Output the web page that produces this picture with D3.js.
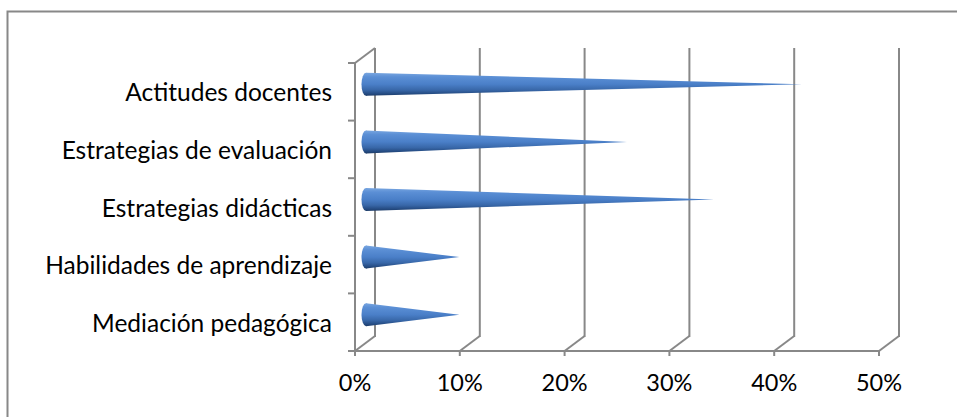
<!DOCTYPE html>
<html>
<head>
<meta charset="utf-8">
<script src="https://cdn.jsdelivr.net/npm/d3@7"></script>
<style>
  html, body { margin: 0; padding: 0; background: #fff; }
  svg { display: block; }
  text { font-family: Lato, "Open Sans", sans-serif; fill: #000; }
</style>
</head>
<body>
<svg id="chart" width="957" height="417"></svg>
<script>
// Categories, top to bottom
const categories = [
  "Actitudes docentes",
  "Estrategias de evaluación",
  "Estrategias didácticas",
  "Habilidades de aprendizaje",
  "Mediación pedagógica"
];
// Share of responses per category
const values = [0.417, 0.25, 0.333, 0.09, 0.09];
// Value axis ticks
const tickValues = [0, 0.1, 0.2, 0.3, 0.4, 0.5];
const tickLabels = ["0%", "10%", "20%", "30%", "40%", "50%"];

const svg = d3.select("#chart");
const grey = "#888888";

// outer chart frame
svg.append("rect")
  .attr("x", 7.5).attr("y", 11.5)
  .attr("width", 1000).attr("height", 500)
  .attr("fill", "none").attr("stroke", grey).attr("stroke-width", 2);

// front plane scales and depth offset of the 3D box
const x = d3.scaleLinear().domain([0, 0.5]).range([355, 879]);
const y = d3.scaleBand().domain(categories).range([63, 351]).paddingInner(0).paddingOuter(0);
const dx = 20, dy = -15;
const yTop = 63, yBot = 351;

const grid = svg.append("g").attr("stroke", grey).attr("stroke-width", 2).attr("fill", "none");

// back wall gridlines
grid.selectAll(".back").data(tickValues).join("line")
  .attr("x1", d => x(d) + dx).attr("x2", d => x(d) + dx)
  .attr("y1", yTop + dy).attr("y2", yBot + dy + 1);

// floor: depth lines from each tick to the back wall
grid.selectAll(".floor").data(tickValues).join("line")
  .attr("x1", d => x(d)).attr("y1", yBot)
  .attr("x2", d => x(d) + dx).attr("y2", yBot + dy);

// front value axis with ticks
grid.append("line").attr("x1", x(0)).attr("x2", x(0.5)).attr("y1", yBot).attr("y2", yBot);
grid.selectAll(".xt").data(tickValues).join("line")
  .attr("x1", d => x(d)).attr("x2", d => x(d))
  .attr("y1", yBot).attr("y2", yBot + 5);

// left wall: category axis, top depth edge, ticks at band edges
grid.append("line").attr("x1", x(0)).attr("x2", x(0)).attr("y1", yTop).attr("y2", yBot);
grid.append("line").attr("x1", x(0)).attr("y1", yTop).attr("x2", x(0) + dx).attr("y2", yTop + dy);
const bandEdges = categories.map(c => y(c)).concat([yBot]);
grid.selectAll(".yt").data(bandEdges).join("line")
  .attr("x1", x(0) - 7).attr("x2", x(0))
  .attr("y1", d => d).attr("y2", d => d);

// cone shading
const defs = svg.append("defs");
const grad = defs.append("linearGradient").attr("id", "coneGrad")
  .attr("x1", 0).attr("y1", 0).attr("x2", 0).attr("y2", 1);
[[0, "#79a6e0"], [0.18, "#5b8fd5"], [0.5, "#4a7fc8"], [0.75, "#3867a8"], [0.92, "#244a80"], [1, "#1d3b66"]]
  .forEach(([o, c]) => grad.append("stop").attr("offset", o).attr("stop-color", c));

const r = 11.5;
const cones = svg.append("g").selectAll("g").data(categories.map((c, i) => ({ c, v: values[i] }))).join("g");
const cy = d => y(d.c) + y.bandwidth() / 2 + dy / 2;
const bx = x(0) + dx / 2 + 1;

cones.append("ellipse")
  .attr("cx", bx).attr("cy", cy).attr("rx", 4.5).attr("ry", r)
  .attr("fill", "url(#coneGrad)");
cones.append("path")
  .attr("d", d => `M${bx},${cy(d) - r}L${x(d.v) + dx / 2},${cy(d)}L${bx},${cy(d) + r}Z`)
  .attr("fill", "url(#coneGrad)");

// category labels
svg.append("g").selectAll("text").data(categories).join("text")
  .attr("x", 332).attr("y", d => y(d) + y.bandwidth() / 2 + 1)
  .attr("dy", "0.35em").attr("text-anchor", "end")
  .attr("font-size", 24.5).text(d => d);

// value labels
svg.append("g").selectAll("text").data(tickValues).join("text")
  .attr("x", d => x(d)).attr("y", 383)
  .attr("dy", "0.35em").attr("text-anchor", "middle")
  .attr("font-size", 23.5).text((d, i) => tickLabels[i]);
</script>
</body>
</html>
